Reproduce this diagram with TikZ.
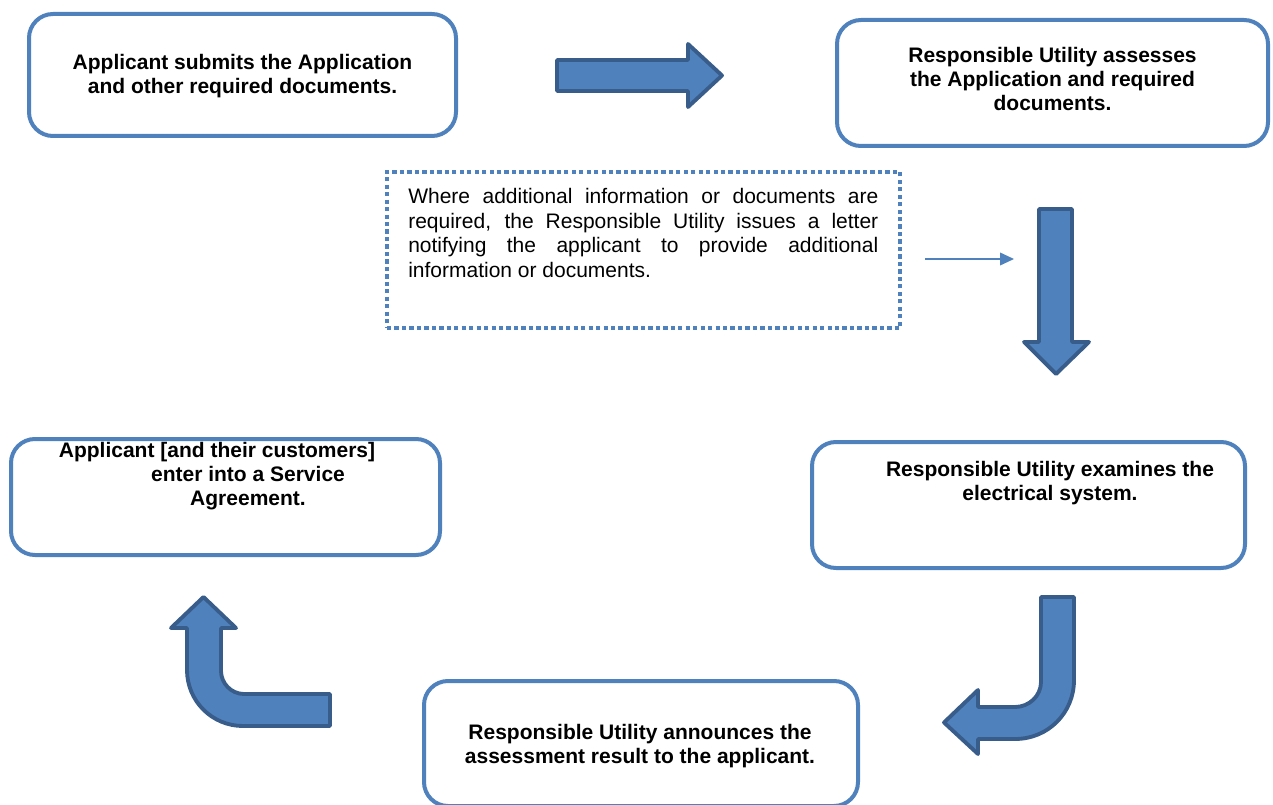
\documentclass[tikz,border=0pt]{standalone}
\usepackage{fontspec}
\setmainfont{Liberation Sans}
\usetikzlibrary{arrows.meta}
\definecolor{boxblue}{HTML}{4F81BD}
\definecolor{arrowedge}{HTML}{385D8A}

\begin{document}
\begin{tikzpicture}[x=0.75pt,y=-0.75pt,
        stepbox/.style={draw=boxblue,line width=3pt,rounded corners=18pt,inner sep=0pt,
            font=\fontsize{15.75}{18}\selectfont\bfseries,align=center},
        notebox/.style={draw=boxblue,line width=3pt,dash pattern=on 3.2pt off 2.4pt,inner sep=0pt},
        steptext/.style={font=\fontsize{15.75}{18}\selectfont\bfseries,align=center,inner sep=0pt},
        blockarrow/.style={fill=boxblue,draw=arrowedge,line width=2.9pt,line join=round}]
        \useasboundingbox (0,0) rectangle (1273,805);

        %%%%%%% Boxes %%%%%%%%
        \node[stepbox,minimum width=320.25pt,minimum height=91.5pt] (submit) at (242.5,75) {};
        \node[steptext] (submittext) at (242.5,76.5)
            {Applicant submits the Application\\and other required documents.};
        \node[stepbox,minimum width=323.25pt,minimum height=94.5pt] (assess) at (1052.5,83) {};
        \node[steptext] (assesstext) at (1052.5,79)
            {Responsible Utility assesses\\the Application and required\\documents.};
        \node[stepbox,minimum width=324.75pt,minimum height=94.5pt] (examine) at (1028.5,505) {};
        \node[steptext] (examinetext) at (1050,483)
            {Responsible Utility examines the\\electrical system.};
        \node[stepbox,minimum width=325.5pt,minimum height=93.75pt] (announce) at (641,743.5) {};
        \node[steptext] (announcetext) at (640,746)
            {Responsible Utility announces the\\assessment result to the applicant.};
        \node[stepbox,minimum width=321.75pt,minimum height=87pt] (agree) at (225.5,497) {};
        \node[steptext] (agreetext) at (248,476)
            {Applicant [and their customers]\hspace*{46.5pt}\\enter into a Service\\Agreement.};

        %%%%%%% Additional information %%%%%%%%
        \node[notebox,minimum width=384.75pt,minimum height=117pt] (note) at (643.5,250) {};
        \node[anchor=north west,inner sep=0pt,text width=352.5pt,align=justify,
            font=\fontsize{15.75}{18.4}\selectfont] (notetext) at (408,188)
            {Where additional information or documents are\linebreak
             required, the Responsible Utility issues a letter\linebreak
             notifying the applicant to provide additional\linebreak
             information or documents.};
        \coordinate (noteout) at (925,259);
        \coordinate (notein) at (1014,259);
        \draw[boxblue,line width=1.2pt,-{Triangle[length=10.5pt,width=9.5pt]}] (noteout) -- (notein);

        %%%%%%% Block arrows %%%%%%%%
        \draw[blockarrow] (557,60) -- (688,60) -- (688,44) -- (722,75.5) -- (688,107)
            -- (688,91) -- (557,91) -- cycle;
        \draw[blockarrow] (1039,209) -- (1072,209) -- (1072,342) -- (1089,342) -- (1056,374)
            -- (1024,342) -- (1039,342) -- cycle;
        \draw[blockarrow] (1041,597) -- (1074,597) -- (1074,680)
            .. controls (1074,713) and (1048,739) .. (1015,739) -- (978,739) -- (978,754)
            -- (944,722.5) -- (978,690) -- (978,707) -- (1015,707)
            .. controls (1029,707) and (1041,696) .. (1041,682) -- cycle;
        \draw[blockarrow] (203.5,597) -- (236,628) -- (221,628) -- (221,671)
            .. controls (221,683) and (231,694) .. (244,694) -- (330,694) -- (330,726)
            -- (243,726) .. controls (212,726) and (187,701) .. (187,670) -- (187,628)
            -- (171,628) -- cycle;
    \end{tikzpicture}
\end{document}
